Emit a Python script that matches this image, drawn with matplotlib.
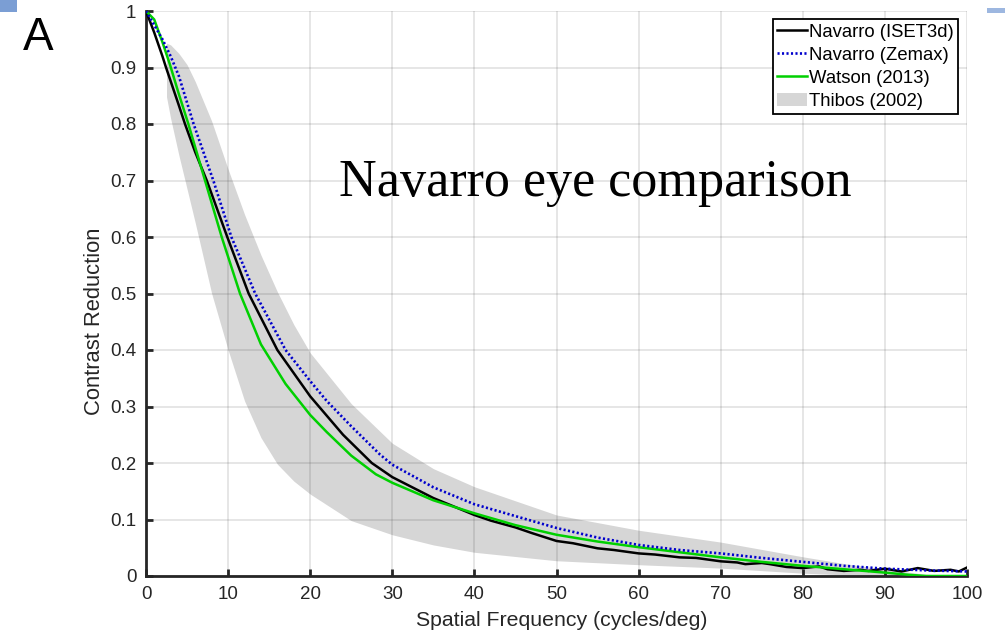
import matplotlib
matplotlib.use("Agg")
import matplotlib.pyplot as plt
from matplotlib.patches import Patch, Rectangle

# Navarro (ISET3d)
iset_x = [0, 1, 2, 2.44, 3, 4, 4.75, 6, 7.4, 9.9, 12.5, 16, 20, 24, 27.5, 30, 35,
          40, 42, 45, 47, 50, 52, 55, 57, 60, 62, 65, 67, 70, 72, 73, 75, 76, 78,
          80, 82, 83, 85, 87, 88, 90, 92, 94, 96, 98, 99, 100]
iset_y = [1.0, 0.962, 0.92, 0.9, 0.876, 0.833, 0.8, 0.75, 0.7, 0.6, 0.5, 0.4, 0.318,
          0.25, 0.2, 0.175, 0.138,
          0.108, 0.098, 0.086, 0.076, 0.062, 0.058, 0.049, 0.046, 0.040, 0.038,
          0.033, 0.032, 0.026, 0.024, 0.021, 0.023, 0.021, 0.016,
          0.014, 0.017, 0.012, 0.009, 0.011, 0.009, 0.013, 0.008, 0.014, 0.009,
          0.011, 0.008, 0.015]

# Navarro (Zemax)
zemax_x = [0, 1, 2, 3, 4, 5.8, 8.2, 10.4, 13.3, 17, 20, 22, 25, 28.5, 30, 35, 40,
           45, 50, 55, 60, 65, 70, 75, 80, 85, 90, 95, 100]
zemax_y = [1.0, 0.975, 0.95, 0.92, 0.885, 0.8, 0.7, 0.6, 0.5, 0.4, 0.345, 0.31,
           0.265, 0.215, 0.197, 0.157, 0.127, 0.106, 0.085, 0.068, 0.055, 0.046,
           0.04, 0.032, 0.025, 0.018, 0.013, 0.01, 0.008]

# Watson (2013)
watson_x = [0, 1, 2, 2.92, 4, 5.16, 7.19, 9.22, 11.45, 14, 17, 20, 22, 25, 28, 30,
            35, 40, 45, 50, 55, 60, 65, 70, 75, 80, 85, 90, 93, 95, 100]
watson_y = [1.0, 0.985, 0.945, 0.905, 0.853, 0.8, 0.7, 0.6, 0.5, 0.41, 0.34, 0.285,
            0.255, 0.213, 0.18, 0.165, 0.134, 0.111, 0.09, 0.073, 0.061, 0.051,
            0.042, 0.033, 0.025, 0.018, 0.012, 0.006, 0.002, 0.0, 0.0]

# Thibos (2002) range
thibos_x = [2.5, 3, 4, 5, 6, 8, 10, 12, 14, 16, 18, 20, 25, 30, 35, 40, 50, 60,
            70, 80, 85, 90, 95, 100]
thibos_hi = [0.943, 0.94, 0.925, 0.905, 0.875, 0.805, 0.72, 0.64, 0.568, 0.503,
             0.445, 0.395, 0.305, 0.235, 0.19, 0.158, 0.108, 0.081, 0.06, 0.034,
             0.022, 0.012, 0.003, 0.0]
thibos_lo = [0.848, 0.81, 0.745, 0.685, 0.625, 0.5, 0.4, 0.31, 0.245, 0.198, 0.168,
             0.145, 0.098, 0.073, 0.055, 0.042, 0.027, 0.02, 0.014, 0.005, 0.002,
             0.0, 0.0, 0.0]

xticks = list(range(0, 101, 10))
yticks = [0, 0.1, 0.2, 0.3, 0.4, 0.5, 0.6, 0.7, 0.8, 0.9, 1]
ytick_labels = ["0", "0.1", "0.2", "0.3", "0.4", "0.5", "0.6", "0.7", "0.8", "0.9", "1"]

plt.rcParams["font.family"] = ["Liberation Sans", "DejaVu Sans"]
dark = "#262626"
band = "#d6d6d6"

fig = plt.figure(figsize=(10.05, 6.34), dpi=100)
ax = fig.add_axes([146 / 1005, 1 - 576 / 634, 821 / 1005, 565 / 634])

ax.fill_between(thibos_x, thibos_lo, thibos_hi, color=band, lw=0, zorder=1)
ax.plot(iset_x, iset_y, color="black", lw=1.8, zorder=3)
ax.plot(zemax_x, zemax_y, color="#0000cc", lw=1.9, ls=(0, (0.8, 0.9)), zorder=4)
ax.plot(watson_x, watson_y, color="#00d000", lw=1.8, zorder=3)

ax.set_xlim(0, 100)
ax.set_ylim(0, 1)
ax.set_xticks(xticks)
ax.set_yticks(yticks)
ax.set_yticklabels(ytick_labels)
ax.set_axisbelow("line")
ax.grid(True, color=dark, alpha=0.15, lw=1.1)

for s in ["top", "right"]:
    ax.spines[s].set_visible(False)
for s in ["left", "bottom"]:
    ax.spines[s].set_color(dark)
    ax.spines[s].set_linewidth(2)
ax.tick_params(direction="in", length=5, width=2, color=dark, labelcolor=dark,
               labelsize=13.5, pad=7)

ax.set_xlabel("Spatial Frequency (cycles/deg)", fontsize=15.3, color=dark)
ax.set_ylabel("Contrast Reduction", fontsize=15.8, color=dark)
ax.xaxis.set_label_coords(0.507, -0.062)
ax.yaxis.set_label_coords(-0.05, 0.45)

ax.text(23.5, 0.673, "Navarro eye comparison", fontsize=37.5,
        family=["Liberation Serif", "DejaVu Serif"], ha="left", va="baseline",
        color="black", zorder=5)

handles = [
    plt.Line2D([], [], color="black", lw=1.8),
    plt.Line2D([], [], color="#0000cc", lw=1.9, ls=(0, (0.8, 0.9))),
    plt.Line2D([], [], color="#00d000", lw=1.8),
    Patch(facecolor=band, edgecolor="none"),
]
labels = ["Navarro (ISET3d)", "Navarro (Zemax)", "Watson (2013)", "Thibos (2002)"]
leg = ax.legend(handles, labels, loc="upper right", bbox_to_anchor=(0.989, 0.986),
                fontsize=13.3, frameon=True, fancybox=False, framealpha=1,
                edgecolor="black", borderpad=0.25, labelspacing=0.33,
                handlelength=1.6, handletextpad=0.1, borderaxespad=0)
leg.get_frame().set_linewidth(1.3)

fig.text(23 / 1005, 1 - 50 / 634, "A", fontsize=33, ha="left", va="baseline",
         color="black")

# small window-edge fragments in the screenshot corners
fig.patches.append(Rectangle((0, 1 - 12 / 634), 17 / 1005, 12 / 634,
                             transform=fig.transFigure, color="#7b9ed4", lw=0))
fig.patches.append(Rectangle((987 / 1005, 1 - 13 / 634), 18 / 1005, 5 / 634,
                             transform=fig.transFigure, color="#9db7e0", lw=0))

fig.savefig("out.png", dpi=100)
